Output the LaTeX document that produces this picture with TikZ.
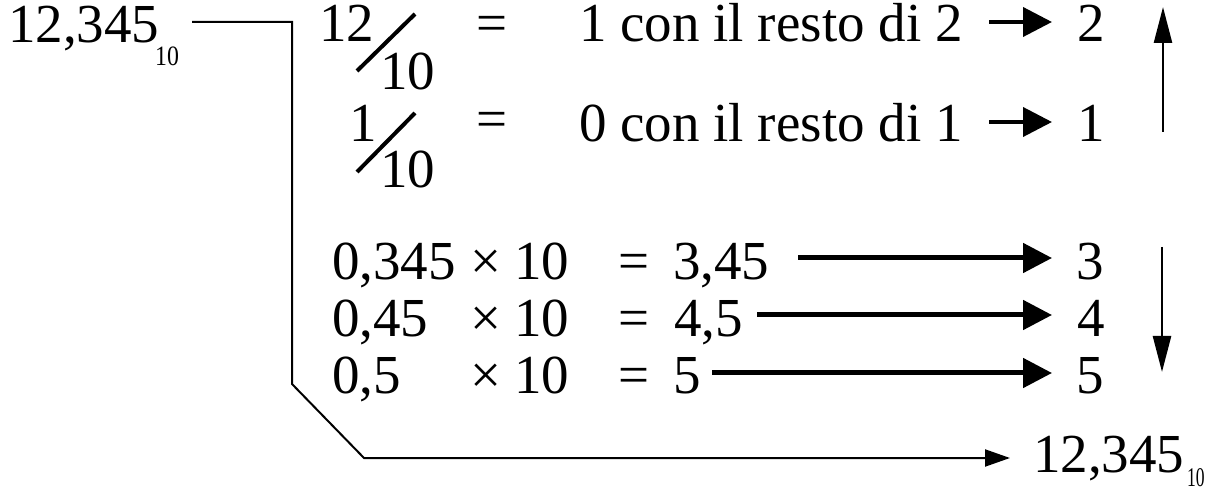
\documentclass[tikz,border=0pt]{standalone}
\usepackage{fontspec}
\setmainfont{Liberation Serif}
\usetikzlibrary{arrows.meta}
\begin{document}
\begin{tikzpicture}[x=1bp,y=-1bp,
  txt/.style={inner sep=0pt, anchor=base west, font=\fontsize{55bp}{60bp}\selectfont},
  subtxt/.style={inner sep=0pt, anchor=base west, font=\fontsize{28bp}{30bp}\selectfont},
  shortarr/.style={line width=4bp, -{Triangle[length=29bp,width=29bp]}},
  longarr/.style={line width=5bp, -{Triangle[length=29bp,width=29bp]}},
  orderarr/.style={line width=2.5bp, -{Triangle[length=36bp,width=18bp]}},
  conn/.style={line width=2bp, -{Triangle[length=25bp,width=17bp]}},
  slashline/.style={line width=4bp},
]
\useasboundingbox (0,0) rectangle (1211,491);

% source number
\node[txt] (src) at (8,43) {12,345};
\node[subtxt] (srcsub) at (155,66) {\scalebox{0.85}[1]{10}};

% integer part
\node[txt] (num1) at (319,42) {12};
\node[txt] (den1) at (380,90) {10};
\draw[slashline] (357,71) -- (415,14);
\node[txt] (eq1) at (476,42) {=};
\node[txt] (txt1) at (579,42) {1 con il resto di 2};
\node[txt] (r1) at (1077,42) {2};

\node[txt] (num2) at (349,142) {1};
\node[txt] (den2) at (380,188) {10};
\draw[slashline] (357,172) -- (415,113);
\node[txt] (eq2) at (476,138) {=};
\node[txt] (txt2) at (579,142) {0 con il resto di 1};
\node[txt] (r2) at (1077,142) {1};

\coordinate (s1) at (989,22);
\coordinate (s2) at (989,122);
\draw[shortarr, shorten >=25bp] (s1) -- (s1 -| r1.west);
\draw[shortarr, shorten >=25bp] (s2) -- (s2 -| r2.west);

\coordinate (up0) at (1163,132);
\coordinate (up1) at (1163,7);
\draw[orderarr] (up0) -- (up1);

% fractional part
\node[txt] (a3) at (332,280) {0,345};
\node[txt] (m3) at (470,280) {×};
\node[txt] (t3) at (514,280) {10};
\node[txt] (e3) at (618,280) {=};
\node[txt] (p3) at (673,280) {3,45};
\node[txt] (r3) at (1076,280) {3};

\node[txt] (a4) at (332,337) {0,45};
\node[txt] (m4) at (470,337) {×};
\node[txt] (t4) at (514,337) {10};
\node[txt] (e4) at (618,337) {=};
\node[txt] (p4) at (674,337) {4,5};
\node[txt] (r4) at (1077,337) {4};

\node[txt] (a5) at (332,393) {0,5};
\node[txt] (m5) at (470,393) {×};
\node[txt] (t5) at (514,393) {10};
\node[txt] (e5) at (618,393) {=};
\node[txt] (p5) at (673,393) {5};
\node[txt] (r5) at (1076,393) {5};

\coordinate (s3) at (798,258);
\coordinate (s4) at (757,315);
\coordinate (s5) at (712,373);
\draw[longarr, shorten >=24bp] (s3) -- (s3 -| r3.west);
\draw[longarr, shorten >=25bp] (s4) -- (s4 -| r4.west);
\draw[longarr, shorten >=24bp] (s5) -- (s5 -| r5.west);

\coordinate (dn0) at (1162,247);
\coordinate (dn1) at (1162,372);
\draw[orderarr] (dn0) -- (dn1);

% result
\node[txt] (res) at (1033,472) {12,345};
\node[subtxt, font=\fontsize{27bp}{30bp}\selectfont] (ressub) at (1187,486) {\scalebox{0.65}[1]{10}};

\coordinate (c0) at (192,22);
\coordinate (c1) at (292,22);
\coordinate (c2) at (292,384);
\coordinate (c3) at (364,458);
\draw[conn, shorten >=23bp] (c0) -- (c1) -- (c2) -- (c3) -- (c3 -| res.west);
\end{tikzpicture}
\end{document}
